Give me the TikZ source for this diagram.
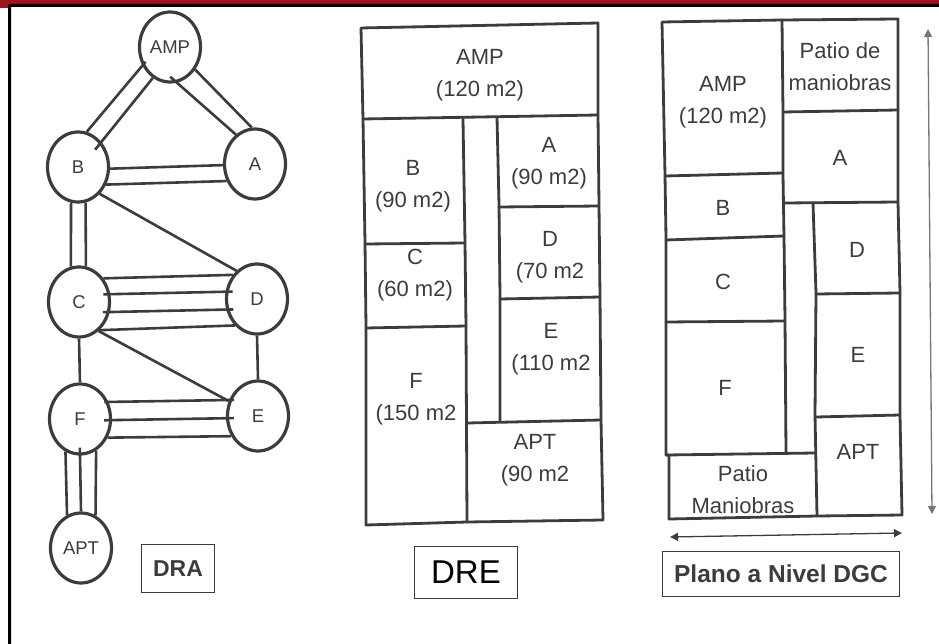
\documentclass[tikz,border=0pt]{standalone}
\usepackage{fontspec}
\setmainfont{Liberation Sans}
\usepackage{xcolor}
\usetikzlibrary{arrows.meta,shapes.geometric}
\definecolor{bandred}{HTML}{9B1422}
\definecolor{inkgray}{HTML}{3C3C3C}

\begin{document}
\begin{tikzpicture}[
  x=1pt,y=-1pt,
  every node/.style={text=inkgray,inner sep=0pt},
  areanode/.style={draw=inkgray,line width=3.2pt,ellipse,minimum width=61pt,minimum height=70pt,font=\fontsize{18.5}{20}\selectfont},
  link/.style={draw=inkgray,line width=2.6pt},
  wall/.style={draw=inkgray,line width=2.8pt,line join=round,line cap=round},
  room/.style={align=center,font=\fontsize{22}{32}\selectfont},
  titlebox/.style={draw=inkgray,line width=1pt,anchor=north west},
  dimline/.style={line width=1.3pt,{Triangle[length=8pt,width=8pt]}-{Triangle[length=8pt,width=8pt]}}
]
\useasboundingbox (0,0) rectangle (939,644);

% frame of the slide
\fill[bandred] (0,0) rectangle (939,4) (0,4) rectangle (8,8);
\fill[black] (8,4) rectangle (939,7) (8,4) rectangle (11,644);

% DRA areas
\node[areanode] (amp) at (170,47) {AMP};
\node[areanode] (b) at (78,167) {B};
\node[areanode] (a) at (255,164) {A};
\node[areanode] (c) at (79,302) {C};
\node[areanode] (d) at (257,299) {D};
\node[areanode] (f) at (80,419) {F};
\node[areanode] (e) at (258,416) {E};
\node[areanode] (apt) at (81,548) {APT};

% DRA connectors, one line for each degree of closeness
\draw[link,shorten <=-5pt] (amp.214) -- (b.76);
\draw[link,shorten >=-10pt] (amp.241) -- (b.47);
\draw[link] (amp.318) -- (a.95);
\draw[link,shorten <=-9pt] (amp.281) -- (a.123);
\draw[link] (b.357) -- (a.182);
\draw[link] (b.328) -- (a.211);
\draw[link] (b.259) -- (c.103);
\draw[link] (b.282) -- (c.79);
\draw[link] (b.309) -- (d.126);
\draw[link] (c.44) -- (d.135);
\draw[link,shorten <=-7pt,shorten >=-7pt] (c.14) -- (d.167);
\draw[link,shorten <=-7pt,shorten >=-7pt] (c.342) -- (d.199);
\draw[link] (c.306) -- (d.230);
\draw[link] (c.270) -- (f.90);
\draw[link] (d.270) -- (e.90);
\draw[link] (c.304) -- (e.153);
\draw[link,shorten <=-4pt,shorten >=-5pt] (f.31) -- (e.151);
\draw[link,shorten <=-8pt,shorten >=-8pt] (f.358) -- (e.184);
\draw[link] (f.326) -- (e.217);
\draw[link] (f.246) -- (apt.113);
\draw[link,shorten <=-8pt] (f.270) -- (apt.90);
\draw[link] (f.297) -- (apt.66);

\node[titlebox,minimum width=73pt,minimum height=48pt,font=\bfseries\fontsize{23}{25}\selectfont] (dra) at (141,544) {DRA};

% DRE rooms
\draw[wall] (361,28) -- (598,23) -- (598,115) -- (599,205) -- (600,297) -- (601,420) -- (603,520)
  -- (467,522) -- (366,525) -- (366,327) -- (365,243) -- (363,119) -- cycle;
\draw[wall] (363,119) -- (598,115);
\draw[wall] (463,119) -- (465,243) -- (466,327) -- (467,522);
\draw[wall] (497,117) -- (499,205) -- (500,297) -- (500,421);
\draw[wall] (365,244) -- (465,243);
\draw[wall] (366,328) -- (466,326);
\draw[wall] (499,207) -- (599,206);
\draw[wall] (500,299) -- (600,297);
\draw[wall] (467,423) -- (601,420);

\node[room] (eamp) at (480,75) {AMP\\(120 m2)};
\node[room] (eb) at (413,186) {B\\(90 m2)};
\node[room] (ec) at (415,275) {C\\(60 m2)};
\node[room] (ef) at (416,399) {F\\(150 m2};
\node[room] (ea) at (549,163) {A\\(90 m2)};
\node[room] (ed) at (550,257) {D\\(70 m2};
\node[room] (ee) at (551,349) {E\\(110 m2};
\node[room] (eapt) at (535,460) {APT\\(90 m2};

\node[titlebox,minimum width=103pt,minimum height=52pt,font=\fontsize{33}{36}\selectfont,text=black] (dre) at (414,546) {DRE};

% plan rooms
\draw[wall] (662,22) -- (782,20) -- (898,19) -- (898,110) -- (898,202) -- (900,293) -- (900,415) -- (902,515)
  -- (817,516) -- (669,519) -- (669,455) -- (666,455) -- (666,322) -- (666,238) -- (665,175) -- cycle;
\draw[wall] (782,20) -- (783,112) -- (783,175) -- (784,237) -- (785,320) -- (786,452);
\draw[wall] (665,176) -- (783,173);
\draw[wall] (666,240) -- (784,236);
\draw[wall] (666,322) -- (785,321);
\draw[wall] (666,455) -- (815,453);
\draw[wall] (783,112) -- (898,110);
\draw[wall] (784,203) -- (898,202);
\draw[wall] (813,203) -- (816,293) -- (815,415) -- (817,516);
\draw[wall] (816,294) -- (900,293);
\draw[wall] (816,417) -- (900,415);

\node[room] (pamp) at (723,102) {AMP\\(120 m2)};
\node[room] (ppatioa) at (840,67) {Patio de\\maniobras};
\node[room] (pa) at (840,158) {A};
\node[room] (pb) at (723,208) {B};
\node[room] (pc) at (723,282) {C};
\node[room] (pd) at (857,250) {D};
\node[room] (pe) at (858,355) {E};
\node[room] (pf) at (725,388) {F};
\node[room] (papt) at (858,452) {APT};
\node[room] (ppatiob) at (743,490) {Patio\\Maniobras};

% overall dimensions
\coordinate (vtop) at (928,29);
\coordinate (vbot) at (932,514);
\coordinate (hleft) at (670,537);
\coordinate (hright) at (902,533);
\draw[dimline,draw=inkgray!70,fill=inkgray!70] (vtop) -- (vbot);
\draw[dimline,draw=inkgray] (hleft) -- (hright);

\node[titlebox,minimum width=237pt,minimum height=45pt,font=\bfseries\fontsize{24.5}{26}\selectfont] (plano) at (662,551) {Plano a Nivel DGC};
\end{tikzpicture}
\end{document}
